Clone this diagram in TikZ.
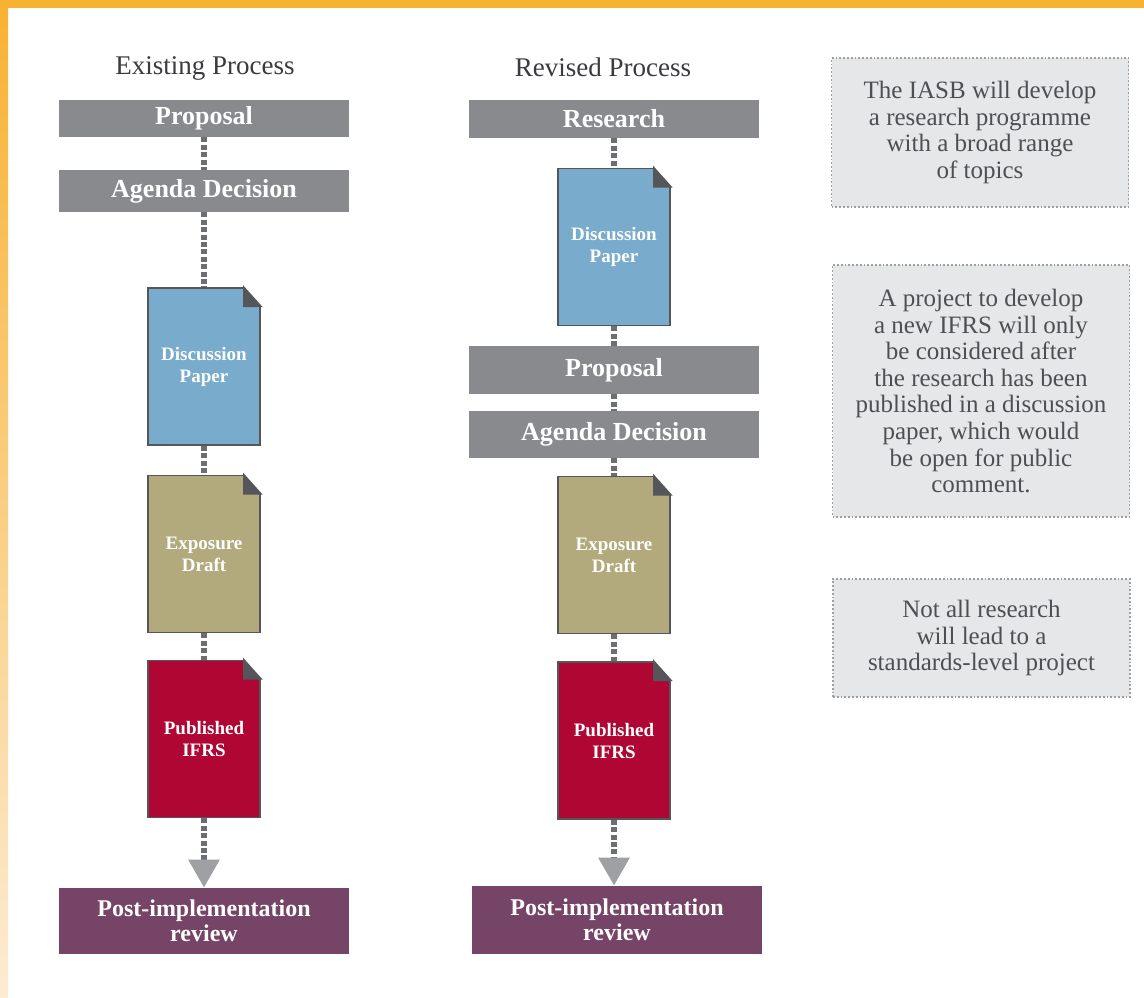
\documentclass[tikz,border=0pt]{standalone}
\usepackage{fontspec}
\setmainfont{Liberation Serif}
\usetikzlibrary{positioning, arrows.meta}

\definecolor{stageGray}{HTML}{898A8E}
\definecolor{paperBlue}{HTML}{79ABCC}
\definecolor{draftTan}{HTML}{B2A97C}
\definecolor{ifrsRed}{HTML}{AF0634}
\definecolor{reviewPlum}{HTML}{764466}
\definecolor{foldGray}{HTML}{555659}
\definecolor{noteFill}{HTML}{E6E7E8}
\definecolor{linkGray}{HTML}{6D6E71}
\definecolor{tipGray}{HTML}{9FA0A3}
\definecolor{inkGray}{HTML}{4E4F52}
\definecolor{headInk}{HTML}{3A3B3E}
\definecolor{frameOrange}{HTML}{F7B232}
\definecolor{frameFade}{HTML}{FDEBD2}

\begin{document}
\begin{tikzpicture}[
        x=0.5pt, y=-0.5pt,
        heading/.style={font=\fontsize{13.5}{15}\selectfont, text=headInk},
        stage/.style={
            rectangle, fill=stageGray, text=white, inner sep=0pt,
            minimum width=145pt, font=\fontsize{13}{15}\selectfont\bfseries
        },
        paper/.style={
            rectangle, fill=#1, draw=foldGray, line width=0.8pt, text=white,
            minimum width=56pt, minimum height=78.5pt, inner sep=0pt,
            align=center, font=\fontsize{9.5}{11}\selectfont\bfseries
        },
        review/.style={
            rectangle, fill=reviewPlum, text=white, inner sep=0pt,
            minimum width=145pt, minimum height=33pt, align=center,
            font=\fontsize{12}{12.5}\selectfont\bfseries
        },
        note/.style={
            rectangle, fill=noteFill, draw=gray!75, densely dotted, line width=0.9pt,
            minimum width=148.5pt, text=inkGray, align=center, inner sep=0pt,
            font=\fontsize{12.5}{13.3}\selectfont
        },
        link/.style={draw=linkGray, line width=3pt, dash pattern=on 2.5pt off 1.2pt}
    ]
        % frame
        \useasboundingbox (0,0) rectangle (1144,997);
        \fill[white] (0,0) rectangle (1144,997);
        \fill[frameOrange] (0,0) rectangle (1144,7.5);
        \shade[top color=frameOrange, bottom color=frameFade] (0,0) rectangle (8,997);

        % existing process
        \node[heading] (headA) at (205,68) {Existing Process};
        \node[stage, minimum height=18.5pt] (propA) at (204,118.5) {Proposal};
        \node[stage, minimum height=21pt] (agdA) at (204,191) {Agenda Decision};
        \node[paper=paperBlue] (dpA) at (204,366.5) {Discussion\\Paper};
        \node[paper=draftTan] (edA) at (204,554) {Exposure\\Draft};
        \node[paper=ifrsRed] (piA) at (204,739) {Published\\IFRS};
        \node[review] (revA) at (204,921) {Post-implementation\\review};

        % revised process
        \node[heading] (headB) at (603,67) {Revised Process};
        \node[stage, minimum height=19pt] (resB) at (614,119) {Research};
        \node[paper=paperBlue] (dpB) at (614,247) {Discussion\\Paper};
        \node[stage, minimum height=24pt] (propB) at (614,370) {Proposal};
        \node[stage, minimum height=23.5pt] (agdB) at (614,434.5) {Agenda Decision};
        \node[paper=draftTan] (edB) at (614,555) {Exposure\\Draft};
        \node[paper=ifrsRed] (piB) at (614,740.5) {Published\\IFRS};
        \node[review, minimum height=34pt] (revB) at (617,920) {Post-implementation\\review};

        % notes
        \node[note, minimum height=74.5pt] (noteA) at (980,132.5)
            {The IASB will develop\\a research programme\\with a broad range\\of topics};
        \node[note, minimum height=126pt] (noteB) at (981,391)
            {A project to develop\\a new IFRS will only\\be considered after\\the research has been\\published in a discussion\\paper, which would\\be open for public\\comment.};
        \node[note, minimum height=59pt] (noteC) at (981.5,638)
            {Not all research\\will lead to a\\standards-level project};

        % folded corners
        \foreach \d in {dpA, edA, piA, dpB, edB, piB} {
            \fill[white] ([xshift=-8.5pt, yshift=0.6pt]\d.north east)
                -- ([xshift=0.6pt, yshift=0.6pt]\d.north east)
                -- ([xshift=0.6pt, yshift=-9.5pt]\d.north east)
                -- ([yshift=-9.5pt]\d.north east)
                -- ([xshift=-8.5pt]\d.north east) -- cycle;
            \filldraw[fill=foldGray, draw=foldGray, line width=0.8pt]
                ([xshift=-8.5pt]\d.north east) -- ([yshift=-9.5pt]\d.north east)
                -- ([xshift=-8.5pt, yshift=-9.5pt]\d.north east) -- cycle;
        }

        % connectors
        \foreach \a/\b in {propA/agdA, agdA/dpA, dpA/edA, edA/piA,
                           resB/dpB, dpB/propB, propB/agdB, agdB/edB, edB/piB}
            \draw[link] (\a.south) -- (\a.south |- \b.north);
        \draw[link, -{Triangle[width=15pt, length=14pt, color=tipGray]}]
            (piA.south) -- (piA.south |- revA.north);
        \draw[link, -{Triangle[width=15pt, length=14pt, color=tipGray]}]
            (piB.south) -- (piB.south |- revB.north);
\end{tikzpicture}
\end{document}
